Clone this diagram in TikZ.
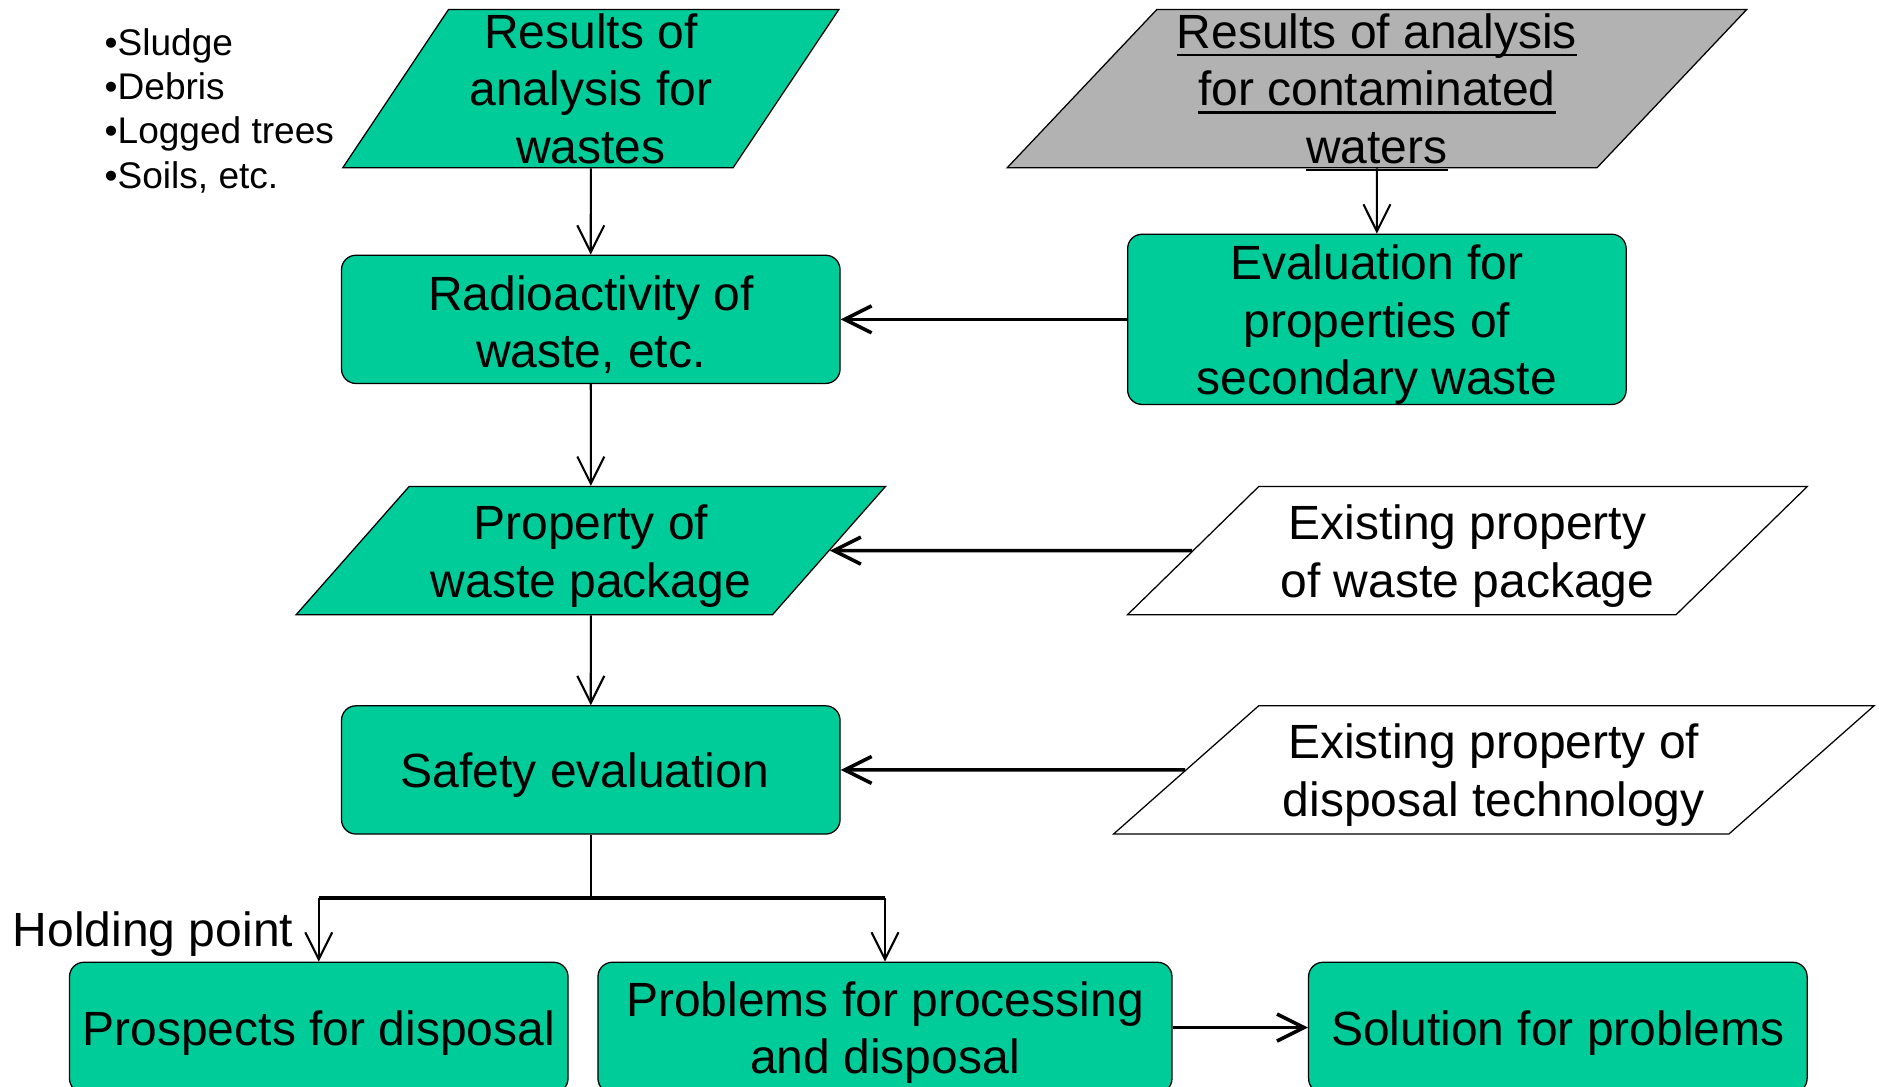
\documentclass[tikz,border=0pt]{standalone}
\usepackage{fontspec}
\setmainfont{Liberation Sans}
\usepackage{xcolor}
\usepackage{tikz}
\usetikzlibrary{shapes.geometric,arrows.meta,positioning,calc}

\definecolor{flowgreen}{RGB}{0,204,153}
\definecolor{flowgrey}{RGB}{178,178,178}
\newcommand{\boxfont}{\fontsize{22.8}{27.3}\selectfont}
\newcommand{\listfont}{\fontsize{17.6}{21}\selectfont}
\newcommand{\topstrut}{\rule{0pt}{21.5pt}}
\newsavebox{\ulinebox}
\newcommand{\undl}[1]{\sbox{\ulinebox}{#1}\rlap{\smash{\rule[-3.7pt]{\wd\ulinebox}{1.1pt}}}\usebox{\ulinebox}}

\begin{document}
\begin{tikzpicture}[
    procbox/.style={draw, line width=0.6pt, fill=flowgreen, rounded corners=0.24cm, align=center,
        inner sep=0pt, minimum width=8.32cm, minimum height=2.14cm, font=\boxfont},
    iobox/.style={draw, line width=0.6pt, shape=trapezium, trapezium stretches=true, align=center,
        inner xsep=0.1cm, inner ysep=0pt, font=\boxfont},
    link/.style={line width=1pt, -{Straight Barb[length=0.45cm,width=0.45cm]}},
    hlink/.style={link, line width=1.7pt},
]
    \useasboundingbox (0,0) rectangle (31.36,-18.14);

    % Inputs
    \node[iobox, fill=flowgreen, trapezium left angle=57.8, trapezium right angle=122.2,
        minimum width=8.30cm, minimum height=2.64cm] (wastes) at (9.86,-1.48) {Results of\\analysis for\\wastes};
    \node[iobox, fill=flowgrey, trapezium left angle=47, trapezium right angle=133,
        minimum width=12.36cm, minimum height=2.64cm] (waters) at (22.98,-1.48)
        {\undl{Results of analysis}\\\undl{for contaminated}\\\undl{waters}};
    \node[anchor=north west, inner sep=0pt, align=left, font=\listfont] (kinds) at (1.74,-0.47)
        {•Sludge\\•Debris\\•Logged trees\\•Soils, etc.};

    % Evaluation of wastes
    \node[procbox] (activity) at (9.86,-5.33) {\topstrut Radioactivity of\\waste, etc.};
    \node[procbox, minimum height=2.78cm] (secondary) at (22.98,-5.33) {\topstrut Evaluation for\\properties of\\secondary waste};

    \node[iobox, fill=flowgreen, trapezium left angle=47.5, trapezium right angle=132.5,
        minimum width=9.84cm, minimum height=2.14cm] (package) at (9.86,-9.19)
        {\topstrut Property of\\waste package};
    \node[iobox, fill=white, trapezium left angle=42.9, trapezium right angle=137.1,
        minimum width=11.38cm, minimum height=2.14cm] (oldpackage) at (24.49,-9.19)
        {\topstrut Existing property\\of waste package};

    \node[procbox] (safety) at (9.86,-12.85) {\topstrut Safety evaluation\hspace{0.2cm}};
    \node[iobox, fill=white, trapezium left angle=40.1, trapezium right angle=139.9,
        minimum width=12.74cm, minimum height=2.14cm] (oldtech) at (24.93,-12.85)
        {\topstrut Existing property of\\disposal technology};

    % Outcomes
    \node[procbox, minimum height=2.18cm] (prospects) at (5.32,-17.15) {\topstrut Prospects for disposal};
    \node[procbox, minimum width=9.58cm, minimum height=2.18cm] (problems) at (14.77,-17.15)
        {\topstrut Problems for processing\\and disposal};
    \node[procbox, minimum height=2.18cm] (solution) at (26.00,-17.15) {\topstrut Solution for problems};
    \node[anchor=base east, inner sep=0pt, font=\boxfont] (holding) at (4.90,-15.79) {Holding point};

    % Connectors
    \draw[link] (wastes) -- (activity);
    \draw[link] (waters) -- (secondary);
    \draw[hlink] (secondary) -- (activity);
    \draw[link] (activity) -- (package);
    \draw[hlink] (oldpackage) -- (package);
    \draw[link] (package) -- (safety);
    \draw[hlink] (oldtech) -- (safety);
    \draw[line width=1pt] (safety.south) -- ++(0,-1.06) coordinate (fork);
    \draw[line width=1.7pt] (fork -| prospects) -- (fork -| problems);
    \draw[link] (fork -| prospects) -- (prospects);
    \draw[link] (fork -| problems) -- (problems);
    \draw[hlink] (problems) -- (solution);
\end{tikzpicture}
\end{document}
